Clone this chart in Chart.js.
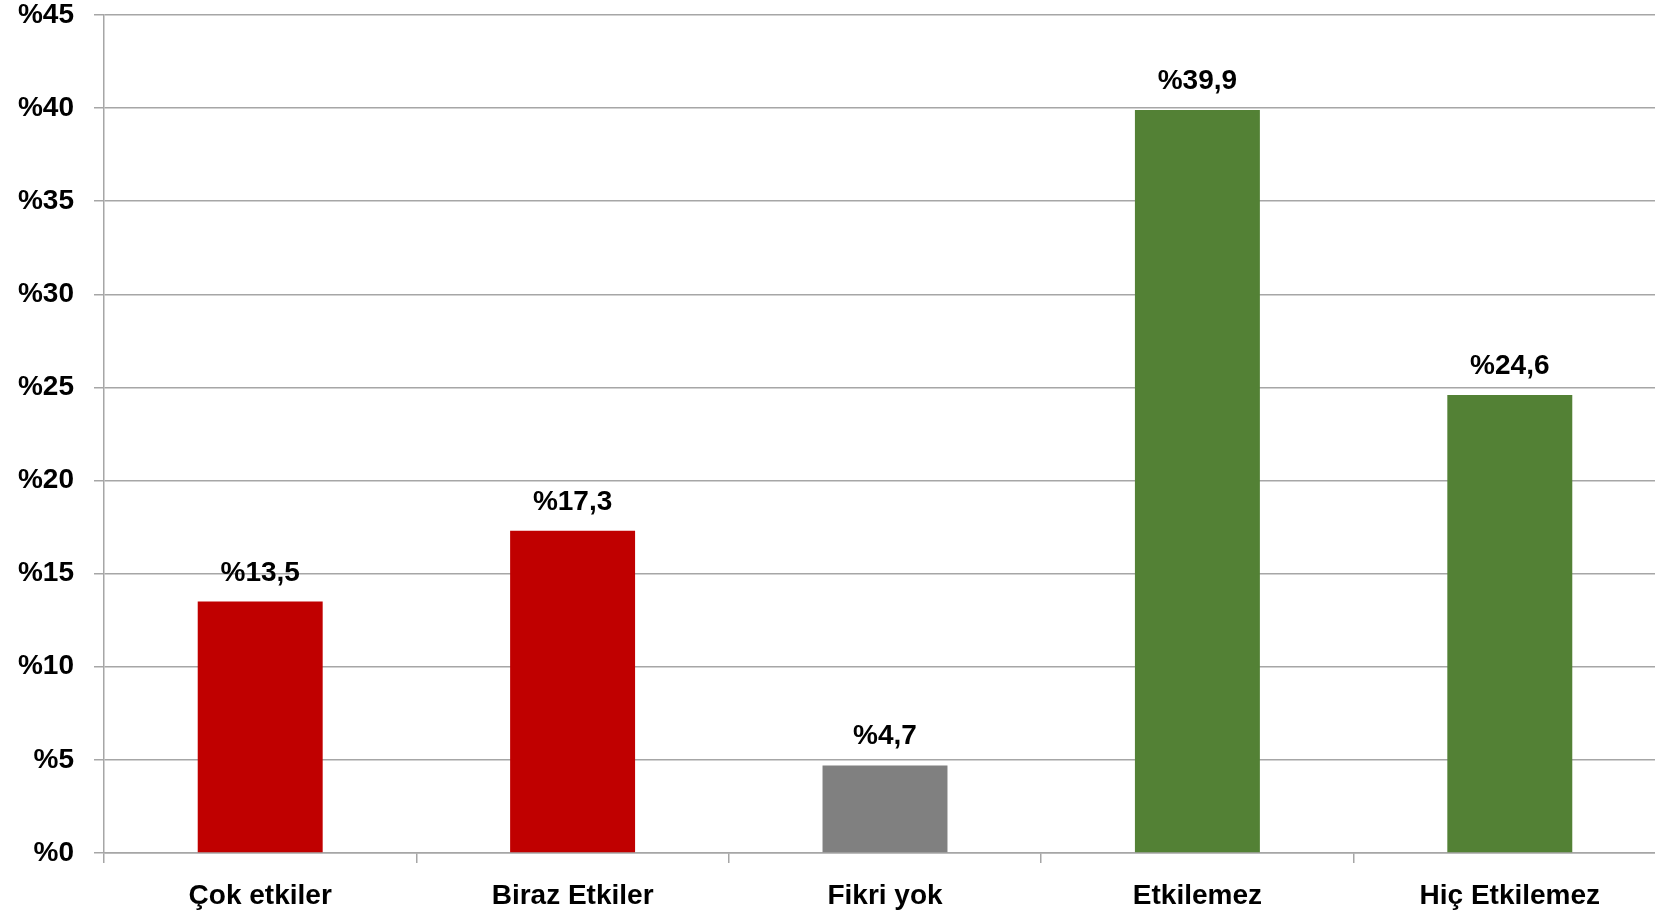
<!DOCTYPE html>
<html>
<head>
<meta charset="utf-8">
<script src="https://cdn.jsdelivr.net/npm/chart.js@4/dist/chart.umd.min.js"></script>
<style>
  html, body { margin: 0; padding: 0; background: #fff; overflow: hidden; }
  #wrap { width: 1680px; height: 913px; }
</style>
</head>
<body>
<div id="wrap"><canvas id="chart" width="1680" height="913"></canvas></div>
<script>
// data
const categories = ["Çok etkiler", "Biraz Etkiler", "Fikri yok", "Etkilemez", "Hiç Etkilemez"];
const values = [13.5, 17.3, 4.7, 39.9, 24.6];
const barColors = ["#C00000", "#C00000", "#808080", "#538135", "#538135"];

const FONT = "'Liberation Sans', Arial, sans-serif";

// labels above each bar, e.g. %13,5
const valueLabels = {
    id: 'valueLabels',
    afterDatasetsDraw(chart) {
        const ctx = chart.ctx;
        const meta = chart.getDatasetMeta(0);
        ctx.save();
        ctx.font = `bold 28px ${FONT}`;
        ctx.fillStyle = '#000';
        ctx.textAlign = 'center';
        ctx.textBaseline = 'alphabetic';
        meta.data.forEach((bar, i) => {
            const txt = '%' + values[i].toFixed(1).replace('.', ',');
            ctx.fillText(txt, bar.x, bar.y - 21);
        });
        ctx.restore();
    }
};

new Chart(document.getElementById('chart').getContext('2d'), {
    type: 'bar',
    data: {
        labels: categories,
        datasets: [{
            data: values,
            backgroundColor: barColors,
            barPercentage: 0.4,
            categoryPercentage: 1.0
        }]
    },
    options: {
        responsive: false,
        animation: false,
        layout: { padding: { top: 15, right: 14, left: 0, bottom: 0 } },
        plugins: {
            legend: { display: false },
            tooltip: { enabled: false }
        },
        scales: {
            x: {
                offset: true,
                grid: {
                    offset: true,
                    drawOnChartArea: false,
                    drawTicks: true,
                    tickLength: 10,
                    color: '#A6A6A6',
                    lineWidth: 1.5
                },
                border: { color: '#A6A6A6', width: 1.5 },
                ticks: {
                    color: '#000',
                    padding: 16,
                    font: { family: FONT, size: 28, weight: 'bold', lineHeight: 1.2 }
                },
                afterFit(scale) { scale.height = 60; }
            },
            y: {
                min: 0,
                max: 45,
                ticks: {
                    stepSize: 5,
                    color: '#000',
                    padding: 20,
                    font: { family: FONT, size: 28, weight: 'bold', lineHeight: 1 },
                    callback: v => '%' + v
                },
                grid: {
                    color: '#A6A6A6',
                    lineWidth: 1.5,
                    tickLength: 10
                },
                border: { color: '#A6A6A6', width: 1.5 },
                afterFit(scale) {
                    scale.width = 104;
                    scale.paddingTop = 0;
                    scale.paddingBottom = 0;
                }
            }
        }
    },
    plugins: [valueLabels]
});
</script>
</body>
</html>
